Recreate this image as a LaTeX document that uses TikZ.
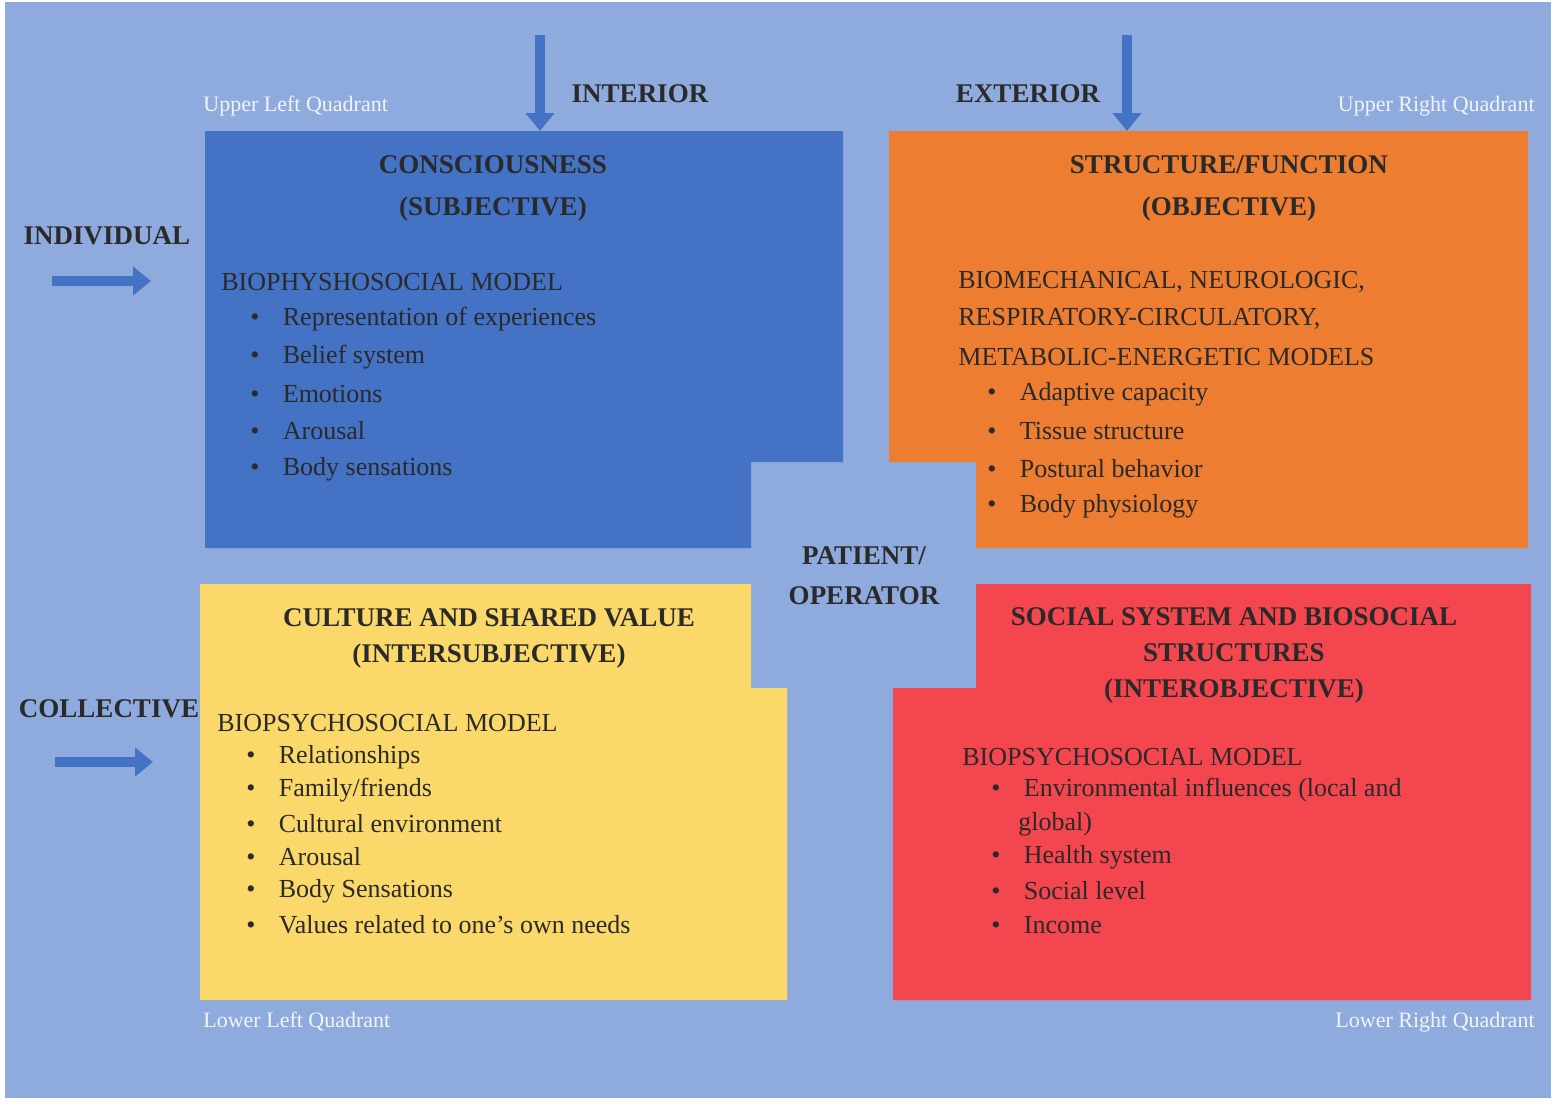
\documentclass[tikz,border=0pt]{standalone}
\usepackage{fontspec}
\setmainfont{Liberation Serif}
\usetikzlibrary{arrows.meta}
\definecolor{bg}{HTML}{8FAADC}
\definecolor{qblue}{HTML}{4472C4}
\definecolor{qorange}{HTML}{ED7D31}
\definecolor{qyellow}{HTML}{FBD86A}
\definecolor{qred}{HTML}{F4464F}
\definecolor{arr}{HTML}{4472C4}
\definecolor{txt}{HTML}{2A2A2A}
\tikzset{
  title/.style={font=\fontsize{13.5}{17}\selectfont\bfseries, text=txt, align=center},
  body/.style={font=\fontsize{13}{16}\selectfont, text=txt, anchor=west, inner sep=0},
  quad/.style={font=\fontsize{11}{13}\selectfont\scshape, text=white!88!bg, inner sep=0},
  side/.style={font=\fontsize{13.5}{16}\selectfont\bfseries, text=txt, inner sep=0},
  bigarrow/.style={arr, line width=5pt, -{Triangle[length=9pt,width=14pt]}}
}
\newcommand{\bl}[3]{\node[body] at (#1,#2) {\textbullet\hspace{0.9em}#3};}
\begin{document}
\begin{tikzpicture}[x=0.5pt,y=-0.5pt]
\useasboundingbox (0,0) rectangle (1560,1108);
\fill[white] (0,0) rectangle (1560,1108);
\fill[bg] (5,2) rectangle (1551,1098);
% quadrants
\fill[qblue] (205,131) -- (843,131) -- (843,462) -- (751,462) -- (751,548) -- (205,548) -- cycle;
\fill[qorange] (889,131) -- (1528,131) -- (1528,548) -- (976,548) -- (976,462) -- (889,462) -- cycle;
\fill[qyellow] (200,584) -- (751,584) -- (751,688) -- (787,688) -- (787,1000) -- (200,1000) -- cycle;
\fill[qred] (976,584) -- (1531,584) -- (1531,1000) -- (893,1000) -- (893,688) -- (976,688) -- cycle;
% arrows
\coordinate (a1s) at (540,35); \coordinate (a1e) at (540,131);
\coordinate (a2s) at (1127,35); \coordinate (a2e) at (1127,131);
\coordinate (a3s) at (52,281); \coordinate (a3e) at (151,281);
\coordinate (a4s) at (55,762); \coordinate (a4e) at (153,762);
\draw[bigarrow] (a1s) -- (a1e);
\draw[bigarrow] (a2s) -- (a2e);
\draw[bigarrow] (a3s) -- (a3e);
\draw[bigarrow] (a4s) -- (a4e);
% labels
\node[side] (interior) at (640,94) {INTERIOR};
\node[side] (exterior) at (1028,94) {EXTERIOR};
\node[side] (indiv) at (107,236) {INDIVIDUAL};
\node[side] (coll) at (109,709) {COLLECTIVE};
\node[side, align=center] (pat) at (864,576) {PATIENT/\\[4pt]OPERATOR};
\node[quad, anchor=west] (ulq) at (203,106) {Upper Left Quadrant};
\node[quad, anchor=east] (urq) at (1535,106) {Upper Right Quadrant};
\node[quad, anchor=west] (llq) at (203,1022) {Lower Left Quadrant};
\node[quad, anchor=east] (lrq) at (1535,1022) {Lower Right Quadrant};
% UL
\node[title] (t1) at (493,188) {CONSCIOUSNESS\\[4pt](SUBJECTIVE)};
\node[body] at (221,282) {BIOPHYSHOSOCIAL MODEL};
\bl{250}{319}{Representation of experiences}
\bl{250}{357}{Belief system}
\bl{250}{394}{Emotions}
\bl{250}{431}{Arousal}
\bl{250}{469}{Body sensations}
% UR
\node[title] (t2) at (1229,188) {STRUCTURE/FUNCTION\\[4pt](OBJECTIVE)};
\node[body] at (958,282) {BIOMECHANICAL, NEUROLOGIC,};
\node[body] at (958,319) {RESPIRATORY-CIRCULATORY,};
\node[body] at (958,357) {METABOLIC-ENERGETIC MODELS};
\bl{987}{394}{Adaptive capacity}
\bl{987}{431}{Tissue structure}
\bl{987}{469}{Postural behavior}
\bl{987}{506}{Body physiology}
% LL
\node[title] (t3) at (489,638) {CULTURE AND SHARED VALUE\\[1pt](INTERSUBJECTIVE)};
\node[body] at (217,723) {BIOPSYCHOSOCIAL MODEL};
\bl{246}{757}{Relationships}
\bl{246}{790}{Family/friends}
\bl{246}{824}{Cultural environment}
\bl{246}{857}{Arousal}
\bl{246}{891}{Body Sensations}
\bl{246}{925}{Values related to one’s own needs}
% LR
\node[title] (t4) at (1234,655) {SOCIAL SYSTEM AND BIOSOCIAL\\[1pt]STRUCTURES\\[1pt](INTEROBJECTIVE)};
\node[body] at (962,757) {BIOPSYCHOSOCIAL MODEL};
\bl{991}{790}{Environmental influences (local and}
\node[body] at (1018,824) {global)};
\bl{991}{857}{Health system}
\bl{991}{891}{Social level}
\bl{991}{925}{Income}
\end{tikzpicture}
\end{document}
